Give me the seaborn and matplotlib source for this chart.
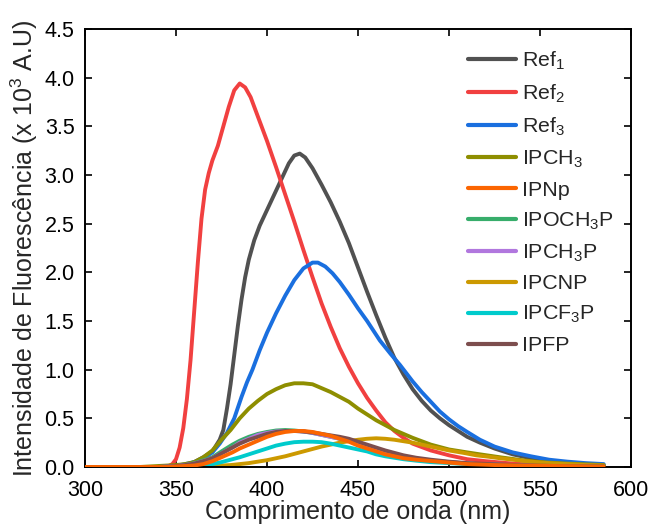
import numpy as np
import pandas as pd
import matplotlib
matplotlib.use("Agg")
import matplotlib.pyplot as plt
import seaborn as sns

# ---- data ----
ref1_x = [300, 340, 350, 355, 360, 365, 370, 374, 376, 378, 380, 382, 384, 386, 388, 390, 393, 396, 400, 404, 408, 412, 415, 418, 421, 425, 430, 435, 440, 445, 450, 455, 460, 465, 470, 475, 480, 485, 490, 495, 500, 505, 510, 517, 525, 535, 545, 555, 565, 575, 585]
ref1_y = [0, 0, 0.01, 0.02, 0.05, 0.1, 0.16, 0.28, 0.38, 0.6, 0.85, 1.15, 1.45, 1.72, 1.95, 2.13, 2.33, 2.48, 2.64, 2.8, 2.96, 3.12, 3.2, 3.22, 3.18, 3.07, 2.9, 2.72, 2.52, 2.3, 2.05, 1.8, 1.56, 1.33, 1.12, 0.95, 0.8, 0.68, 0.58, 0.5, 0.43, 0.37, 0.31, 0.25, 0.19, 0.13, 0.09, 0.06, 0.045, 0.03, 0.02]

ref2_x = [300, 340, 345, 348, 350, 352, 354, 356, 358, 360, 362, 364, 366, 368, 370, 373, 376, 379, 382, 385, 388, 391, 395, 400, 405, 410, 415, 420, 425, 430, 435, 440, 445, 450, 455, 460, 465, 470, 475, 480, 490, 500, 510, 520, 535, 550, 570, 585]
ref2_y = [0, 0, 0.0, 0.03, 0.08, 0.2, 0.4, 0.7, 1.1, 1.6, 2.1, 2.55, 2.85, 3.02, 3.15, 3.3, 3.5, 3.7, 3.87, 3.94, 3.9, 3.8, 3.6, 3.35, 3.08, 2.8, 2.52, 2.23, 1.95, 1.68, 1.44, 1.22, 1.03, 0.86, 0.71, 0.58, 0.46, 0.37, 0.3, 0.24, 0.17, 0.12, 0.08, 0.06, 0.035, 0.02, 0.012, 0.01]

ref3_x = [300, 340, 350, 360, 365, 370, 374, 378, 382, 386, 389, 392, 396, 400, 405, 410, 415, 420, 425, 428, 432, 436, 440, 445, 450, 455, 462, 468, 473, 480, 485, 490, 495, 500, 505, 510, 517, 525, 535, 545, 555, 565, 575, 585]
ref3_y = [0, 0, 0.01, 0.05, 0.09, 0.15, 0.24, 0.35, 0.5, 0.72, 0.87, 1.0, 1.2, 1.38, 1.58, 1.76, 1.92, 2.04, 2.1, 2.1, 2.06, 1.99, 1.9, 1.77, 1.63, 1.5, 1.3, 1.16, 1.05, 0.88, 0.77, 0.67, 0.57, 0.49, 0.42, 0.36, 0.28, 0.21, 0.15, 0.11, 0.075, 0.055, 0.04, 0.03]

ipch3_x = [300, 330, 340, 350, 355, 360, 365, 370, 375, 380, 385, 390, 395, 400, 405, 410, 415, 420, 425, 430, 435, 440, 445, 450, 455, 460, 465, 470, 475, 480, 490, 500, 510, 517, 528, 540, 550, 565, 585]
ipch3_y = [0, 0, 0.01, 0.02, 0.03, 0.05, 0.1, 0.17, 0.28, 0.38, 0.5, 0.6, 0.68, 0.75, 0.8, 0.84, 0.86, 0.86, 0.85, 0.81, 0.77, 0.72, 0.67, 0.6, 0.54, 0.48, 0.43, 0.38, 0.34, 0.3, 0.23, 0.18, 0.15, 0.13, 0.1, 0.07, 0.05, 0.035, 0.02]

ipnp_x = [300, 345, 355, 360, 365, 370, 375, 381, 385, 390, 395, 400, 405, 410, 415, 420, 425, 430, 435, 440, 445, 450, 455, 460, 465, 470, 475, 482, 491, 500, 510, 525, 540, 560, 585]
ipnp_y = [0, 0, 0.01, 0.015, 0.03, 0.06, 0.1, 0.15, 0.19, 0.23, 0.27, 0.31, 0.34, 0.36, 0.37, 0.37, 0.36, 0.34, 0.32, 0.29, 0.26, 0.22, 0.19, 0.16, 0.13, 0.11, 0.09, 0.075, 0.06, 0.045, 0.03, 0.02, 0.015, 0.01, 0.005]

ipoch3p_x = [300, 340, 345, 350, 355, 360, 365, 370, 375, 381, 385, 390, 395, 400, 405, 410, 415, 420, 425, 430, 435, 440, 445, 450, 455, 460, 465, 470, 475, 482, 490, 500, 510, 525, 540, 560, 585]
ipoch3p_y = [0, 0, 0.005, 0.01, 0.02, 0.04, 0.07, 0.1, 0.16, 0.23, 0.27, 0.31, 0.34, 0.36, 0.375, 0.38, 0.375, 0.365, 0.35, 0.33, 0.31, 0.29, 0.27, 0.23, 0.2, 0.17, 0.14, 0.12, 0.1, 0.08, 0.065, 0.05, 0.035, 0.025, 0.015, 0.01, 0.005]

ipch3p_x = [300, 340, 345, 350, 355, 360, 365, 370, 375, 381, 385, 390, 395, 400, 405, 410, 415, 420, 425, 430, 435, 440, 445, 450, 455, 460, 465, 470, 475, 482, 490, 500, 510, 525, 540, 560, 585]
ipch3p_y = [0, 0, 0.005, 0.01, 0.02, 0.035, 0.06, 0.09, 0.14, 0.2, 0.25, 0.29, 0.33, 0.35, 0.365, 0.37, 0.37, 0.365, 0.35, 0.33, 0.31, 0.29, 0.27, 0.235, 0.2, 0.17, 0.14, 0.12, 0.1, 0.08, 0.065, 0.05, 0.035, 0.025, 0.015, 0.01, 0.005]

ipcnp_x = [300, 355, 365, 370, 375, 380, 385, 390, 395, 400, 405, 410, 415, 420, 425, 430, 435, 440, 445, 450, 455, 460, 465, 470, 475, 480, 485, 490, 495, 500, 508, 515, 522, 528, 535, 545, 555, 565, 575, 585]
ipcnp_y = [0, 0, 0.005, 0.01, 0.015, 0.02, 0.03, 0.04, 0.055, 0.07, 0.09, 0.11, 0.135, 0.16, 0.185, 0.21, 0.23, 0.25, 0.265, 0.28, 0.29, 0.295, 0.29, 0.28, 0.265, 0.25, 0.23, 0.21, 0.19, 0.17, 0.145, 0.12, 0.105, 0.09, 0.075, 0.055, 0.04, 0.03, 0.02, 0.015]

ipcf3p_x = [300, 350, 355, 360, 365, 370, 375, 381, 385, 390, 395, 400, 405, 410, 415, 420, 425, 430, 435, 440, 445, 450, 455, 460, 465, 470, 475, 482, 490, 500, 510, 525, 540, 560, 585]
ipcf3p_y = [0, 0, 0.005, 0.01, 0.02, 0.03, 0.05, 0.08, 0.1, 0.13, 0.16, 0.19, 0.22, 0.24, 0.255, 0.26, 0.26, 0.255, 0.24, 0.22, 0.2, 0.18, 0.16, 0.13, 0.11, 0.095, 0.08, 0.065, 0.05, 0.04, 0.03, 0.02, 0.012, 0.008, 0.004]

ipfp_x = [300, 340, 345, 350, 355, 360, 365, 370, 375, 381, 385, 390, 395, 400, 405, 410, 415, 420, 425, 430, 435, 440, 445, 450, 455, 460, 465, 470, 475, 482, 490, 500, 510, 525, 540, 560, 585]
ipfp_y = [0, 0, 0.005, 0.01, 0.02, 0.035, 0.06, 0.09, 0.14, 0.2, 0.24, 0.28, 0.31, 0.34, 0.36, 0.37, 0.37, 0.365, 0.355, 0.34, 0.325, 0.31, 0.29, 0.26, 0.23, 0.2, 0.17, 0.145, 0.12, 0.095, 0.075, 0.055, 0.04, 0.028, 0.018, 0.01, 0.006]

labels = [r"Ref$_1$", r"Ref$_2$", r"Ref$_3$", r"IPCH$_3$", "IPNp",
          r"IPOCH$_3$P", r"IPCH$_3$P", "IPCNP", r"IPCF$_3$P", "IPFP"]
colors = ["#515151", "#F14040", "#1A6FDF", "#8E8E00", "#FB6501",
          "#37AD6B", "#B177DE", "#CC9900", "#00CBCC", "#7D4E4E"]
series = [(ref1_x, ref1_y), (ref2_x, ref2_y), (ref3_x, ref3_y), (ipch3_x, ipch3_y),
          (ipnp_x, ipnp_y), (ipoch3p_x, ipoch3p_y), (ipch3p_x, ipch3p_y),
          (ipcnp_x, ipcnp_y), (ipcf3p_x, ipcf3p_y), (ipfp_x, ipfp_y)]

frames = []
for lab, (xs, ys) in zip(labels, series):
    frames.append(pd.DataFrame({"wl": xs, "I": ys, "sample": lab}))
df = pd.concat(frames, ignore_index=True)

sns.set_theme(style="ticks")
plt.rcParams["font.family"] = ["Liberation Sans", "DejaVu Sans"]
plt.rcParams["mathtext.fontset"] = "custom"
plt.rcParams["mathtext.rm"] = "Liberation Sans"
plt.rcParams["mathtext.it"] = "Liberation Sans"
plt.rcParams["mathtext.default"] = "regular"

fig = plt.figure(figsize=(6.49, 5.24), dpi=100)
ax = fig.add_axes([85 / 649, 1 - 467 / 524, (631 - 85) / 649, (467 - 29) / 524])

sns.lineplot(data=df, x="wl", y="I", hue="sample", hue_order=labels,
             palette=dict(zip(labels, colors)), linewidth=2.8, ax=ax,
             estimator=None, sort=True)
for line, lab in zip(ax.lines, labels):
    line.set_solid_joinstyle("round")
    line.set_solid_capstyle("round")
    if lab == "IPNp":
        line.set_zorder(5)

ax.set_xlim(300, 600)
ax.set_ylim(0, 4.5)
ax.set_xticks(np.arange(300, 601, 50))
ax.set_yticks(np.arange(0, 4.51, 0.5))
ax.set_yticklabels([f"{v:.1f}" for v in np.arange(0, 4.51, 0.5)])
ax.tick_params(direction="in", length=5, width=1.2, top=True, right=True,
               labelsize=15.5, colors="black")
ax.tick_params(axis="y", pad=7.5)
ax.tick_params(axis="x", pad=9)
for s in ax.spines.values():
    s.set_linewidth(1.4)
    s.set_color("black")
ax.set_xlabel("Comprimento de onda (nm)", fontsize=18, labelpad=0)
ax.set_ylabel(r"Intensidade de Fluorescência (x 10$^3$ A.U)", fontsize=18, labelpad=3)

leg = ax.legend(loc="upper right", frameon=False, fontsize=15.4, handlelength=2.25,
                labelspacing=0.5, handletextpad=0.3, borderaxespad=0.0,
                bbox_to_anchor=(0.985, 0.972))
for h in leg.get_lines():
    h.set_linewidth(3)

fig.savefig("out.png", dpi=100)
